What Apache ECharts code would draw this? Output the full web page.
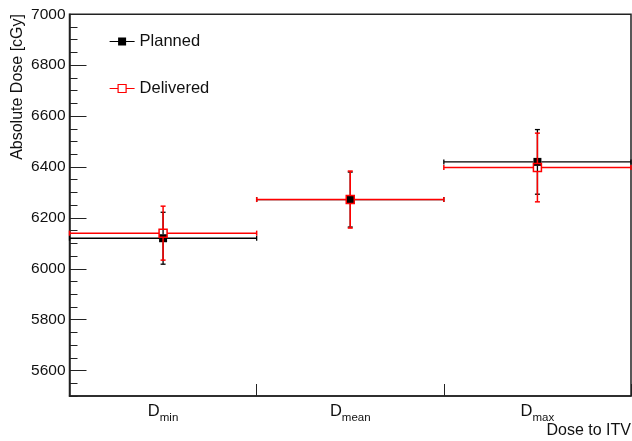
<!DOCTYPE html>
<html>
<head>
<meta charset="utf-8">
<script src="https://cdn.jsdelivr.net/npm/echarts@6/dist/echarts.min.js"></script>
<style>
  html, body { margin: 0; padding: 0; background: #fff; }
  #chart { width: 632px; height: 441px; }
</style>
</head>
<body>
<div id="chart"></div>
<script>
// Dose statistics to the ITV, planned vs delivered (cGy)
const categories = ['min', 'mean', 'max'];
const plannedDose = [6120, 6272, 6420];
const plannedErr = [102, 108, 127];
const deliveredDose = [6140, 6272, 6398];
const deliveredErr = [106, 112, 135];
const yMajorTicks = [5600, 5800, 6000, 6200, 6400, 6600, 6800, 7000];

const FONT = '"Liberation Sans", Arial, sans-serif';
const TEXT = '#111';

// Histogram-style point: horizontal bin-width bar, vertical error bar, square marker
function errorPoint(color, lineWidth, filled) {
  return function (params, api) {
    const v = api.value(1), e = api.value(2);
    const c = api.coord([api.value(0), v]);
    const hi = api.coord([api.value(0), v + e]);
    const lo = api.coord([api.value(0), v - e]);
    const half = api.size([1, 0])[0] / 2;
    const m = 4, cap = 2.5;
    const st = { stroke: color, lineWidth: lineWidth, fill: null };
    const line = (x1, y1, x2, y2) => ({ type: 'line', shape: { x1, y1, x2, y2 }, style: st });
    const kids = [
      line(c[0] - half, c[1], c[0] - m, c[1]),
      line(c[0] + m, c[1], c[0] + half, c[1]),
      line(c[0] - half, c[1] - cap, c[0] - half, c[1] + cap),
      line(c[0] + half, c[1] - cap, c[0] + half, c[1] + cap),
      line(c[0], hi[1], c[0], c[1] - m),
      line(c[0], c[1] + m, c[0], lo[1]),
      line(c[0] - cap, hi[1], c[0] + cap, hi[1]),
      line(c[0] - cap, lo[1], c[0] + cap, lo[1]),
      {
        type: 'rect',
        shape: { x: c[0] - m, y: c[1] - m, width: 2 * m, height: 2 * m },
        style: filled ? { fill: color } : { fill: null, stroke: color, lineWidth: lineWidth }
      }
    ];
    return { type: 'group', children: kids };
  };
}

const chart = echarts.init(document.getElementById('chart'), null, { renderer: 'canvas' });

chart.setOption({
  animation: false,
  backgroundColor: '#fff',
  grid: {
    left: 69.5, right: 1, top: 14.3, bottom: 45,
    show: true, borderColor: '#222', borderWidth: 1.5, backgroundColor: 'transparent'
  },
  legend: {
    orient: 'vertical',
    left: 109, top: 33, padding: 0,
    itemWidth: 25, itemHeight: 8, itemGap: 30,
    textStyle: { fontFamily: FONT, fontSize: 16.5, color: TEXT },
    selectedMode: false,
    data: [
      {
        name: 'Planned',
        icon: 'path://M0,3.4H8.5V0H16.5V3.4H25V4.6H16.5V8H8.5V4.6H0Z',
        itemStyle: { color: '#000', borderWidth: 0 }
      },
      {
        name: 'Delivered',
        icon: 'path://M0,4H8.5M8.5,0H16.5V8H8.5ZM16.5,4H25',
        itemStyle: { color: 'rgba(0,0,0,0)', borderColor: '#ff0000', borderWidth: 1.2 }
      }
    ]
  },
  xAxis: {
    type: 'category',
    data: categories,
    boundaryGap: true,
    axisLine: { show: true, lineStyle: { color: '#222', width: 1.5 } },
    axisTick: { show: true, inside: true, length: 12, lineStyle: { color: '#222', width: 1 } },
    axisLabel: {
      margin: 5,
      formatter: v => '{d|D}{s|' + v + '}',
      rich: {
        d: { fontFamily: FONT, fontSize: 16.5, color: TEXT, lineHeight: 20 },
        s: { fontFamily: FONT, fontSize: 11.5, color: TEXT, lineHeight: 20, padding: [13, 0, 0, 0] }
      }
    },
    splitLine: { show: false }
  },
  yAxis: [
    {
      type: 'value', min: 5500, max: 7000, interval: 50,
      axisLine: { show: true, lineStyle: { color: '#222', width: 1.5 } },
      axisTick: { show: true, inside: true, length: 8, lineStyle: { color: '#222', width: 1 } },
      axisLabel: {
        margin: 4, fontFamily: FONT, fontSize: 15.5, color: TEXT,
        formatter: v => (v % 200 === 0 ? String(v) : '')
      },
      splitLine: { show: false }
    },
    {
      type: 'value', min: 5500, max: 7000, interval: 50, position: 'left',
      axisLine: { show: false },
      axisTick: { show: true, inside: true, length: 17, customValues: yMajorTicks, lineStyle: { color: '#222', width: 1 } },
      axisLabel: { show: false },
      splitLine: { show: false }
    }
  ],
  graphic: [
    {
      type: 'text', x: 18, y: 14, rotation: Math.PI / 2,
      style: {
        text: 'Absolute Dose [cGy]', fontFamily: FONT, fontSize: 16, fill: TEXT,
        align: 'right', verticalAlign: 'middle'
      }
    },
    {
      type: 'text', x: 631, y: 431,
      style: {
        text: 'Dose to ITV', fontFamily: FONT, fontSize: 16, fill: TEXT,
        align: 'right', verticalAlign: 'middle'
      }
    }
  ],
  series: [
    {
      name: 'Planned', type: 'custom', clip: false,
      itemStyle: { color: '#000' },
      renderItem: errorPoint('#000', 1.3, true),
      encode: { x: 0, y: 1 },
      data: categories.map((c, i) => [i, plannedDose[i], plannedErr[i]]),
      z: 2
    },
    {
      name: 'Delivered', type: 'custom', clip: false,
      itemStyle: { color: '#ff0000' },
      renderItem: errorPoint('#ff0000', 1.5, false),
      encode: { x: 0, y: 1 },
      data: categories.map((c, i) => [i, deliveredDose[i], deliveredErr[i]]),
      z: 3
    }
  ]
});
</script>
</body>
</html>
